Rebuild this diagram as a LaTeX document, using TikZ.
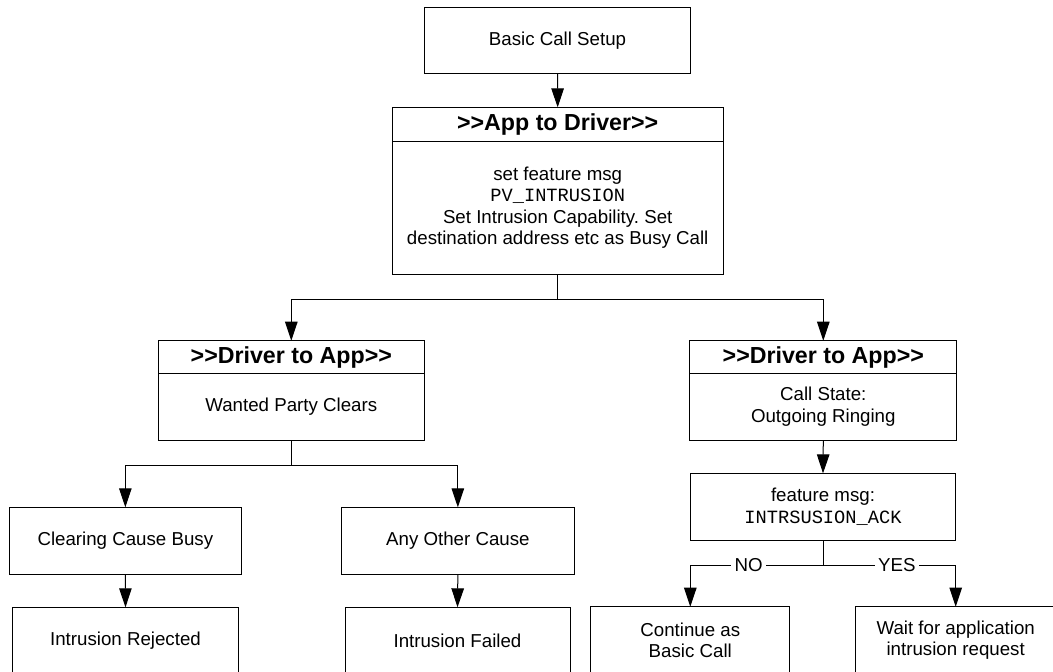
\documentclass[tikz,border=0pt]{standalone}
\usepackage{fontspec}
\setmainfont{Liberation Sans}
\setmonofont{Liberation Mono}
\usetikzlibrary{arrows.meta,positioning}

\begin{document}
\begin{tikzpicture}[x=1pt, y=-1pt, line width=1pt, >={Triangle[length=19pt,width=12.5pt]},
    txt/.style={inner sep=0pt, align=center, font=\fontsize{18.7}{21.5}\selectfont},
    box/.style={txt, draw, rectangle, outer sep=0pt},
    head/.style={box, font=\fontsize{23.2}{26}\selectfont\bfseries},
    lbl/.style={txt, fill=white, inner xsep=3.5pt, inner ysep=2pt}]
  % Seitenrahmen
  \useasboundingbox (0,0) rectangle (1053,672);
  \clip (0,0) rectangle (1053,672);

  % oben
  \node[box, minimum width=266.4, minimum height=66] (setup) at (557.5,40.3) {Basic Call Setup};
  \node[head, minimum width=331.3, minimum height=33.7] (apph) at (557.7,124.2) {>{}>App to Driver>{}>};
  \node[box, minimum width=331.3, minimum height=133.3, below=0pt of apph] (appb)
    {set feature msg\\\texttt{PV\_INTRUSION}\\Set Intrusion Capability.\ Set\\destination address etc as Busy Call};
  \coordinate (j1) at (557.7,299);

  % linker Zweig
  \node[head, minimum width=266.5, minimum height=32.6] (wanh) at (291.3,357) {>{}>Driver to App>{}>};
  \node[box, minimum width=266.5, minimum height=67.2, below=0pt of wanh] (wanb) {Wanted Party Clears};
  \coordinate (j2) at (291.3,465);
  \node[box, minimum width=232.7, minimum height=66.7] (clear) at (125.35,540.65) {Clearing Cause Busy};
  \node[box, minimum width=232.3, minimum height=66.7] (other) at (457.85,540.65) {Any Other Cause};
  \node[box, minimum width=225.6, minimum height=67] (rej) at (125.5,640.8) {Intrusion Rejected};
  \node[box, minimum width=225, minimum height=67] (fail) at (457.5,640.8) {Intrusion Failed};

  % rechter Zweig
  \node[head, minimum width=267, minimum height=32.6] (ringh) at (823.3,357) {>{}>Driver to App>{}>};
  \node[box, minimum width=267, minimum height=66.7, below=0pt of ringh] (ringb) {Call State:\\Outgoing Ringing};
  \node[box, minimum width=265.7, minimum height=66.7] (feat) at (823,506.7)
    {feature msg:\\\texttt{INTRSUSION\_ACK}};
  \coordinate (j3) at (823,565);
  \node[box, minimum width=199.3, minimum height=67] (cont) at (690.3,640.2) {Continue as\\Basic Call};
  \node[box, minimum width=200, minimum height=67] (wait) at (955.7,640.2) {Wait for application\\intrusion request};

  % Pfeile
  \draw[->] (setup.south) -- (apph.north);
  \draw (appb.south) -- (j1);
  \draw[->] (j1) -| (wanh.north);
  \draw[->] (j1) -| (ringh.north);
  \draw (wanb.south) -- (j2);
  \draw[->] (j2) -| (clear.north);
  \draw[->] (j2) -| (other.north);
  \draw[->] (clear.south) -- (rej.north);
  \draw[->] (other.south) -- (fail.north);
  \draw[->] (ringb.south) -- (feat.north);
  \draw (feat.south) -- (j3);
  \draw[->] (j3) -- node[lbl, pos=0.56] (no) {NO} (j3 -| cont.north) -- (cont.north);
  \draw[->] (j3) -- node[lbl, pos=0.556] (yes) {YES} (j3 -| wait.north) -- (wait.north);
\end{tikzpicture}
\end{document}
